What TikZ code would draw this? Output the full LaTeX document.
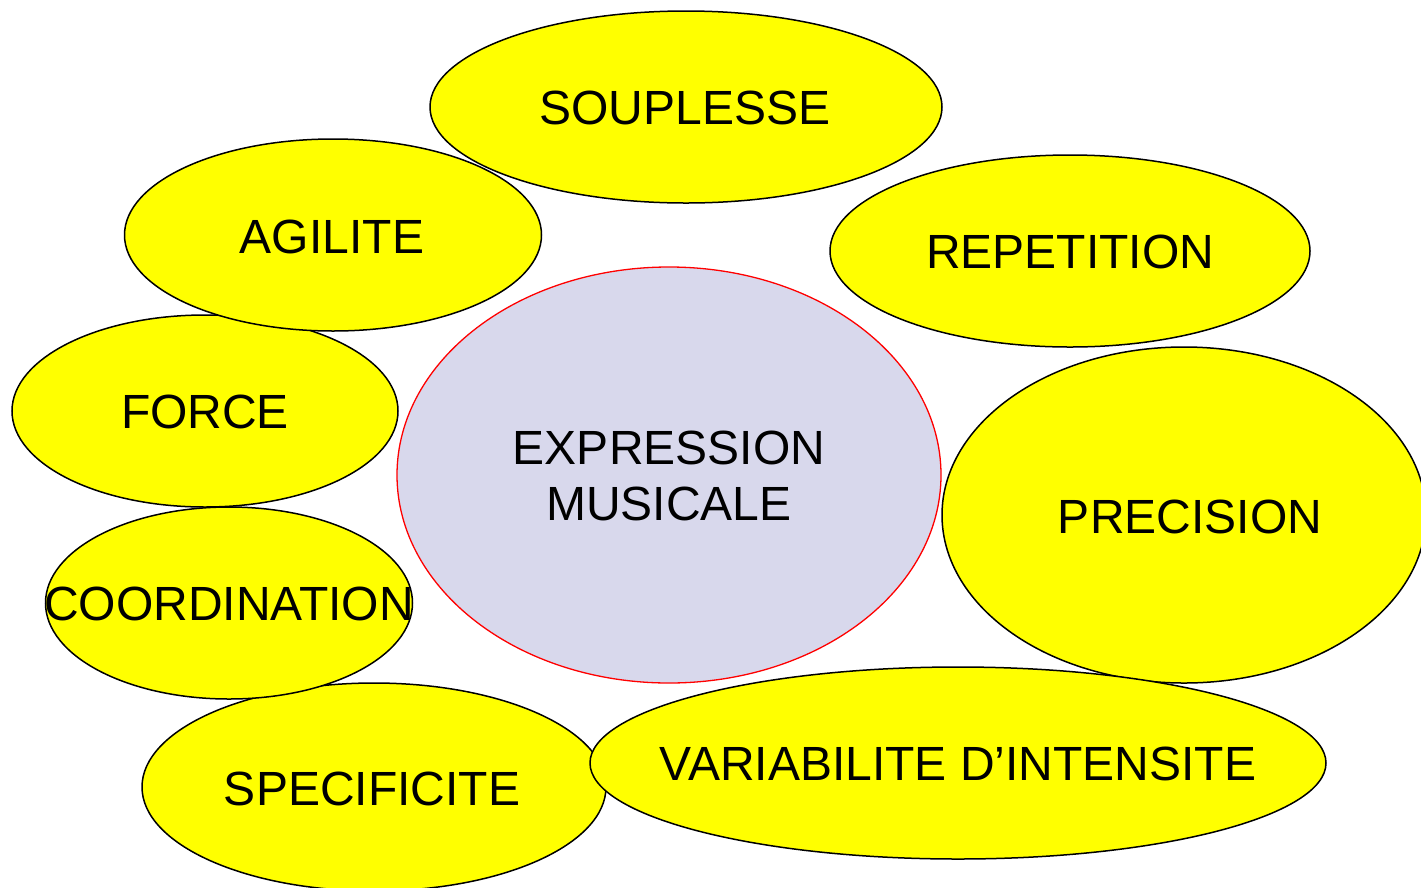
\documentclass[tikz,border=0pt]{standalone}
\usepackage{fontspec}
\setmainfont{Liberation Sans}
\usetikzlibrary{shapes.geometric}
\definecolor{ybubble}{RGB}{255,255,0}
\definecolor{lav}{RGB}{216,216,236}
\definecolor{redline}{RGB}{255,0,0}
\tikzset{
  bubble/.style={ellipse, draw=black, line width=1.5pt, fill=ybubble, inner sep=0pt},
  centre/.style={ellipse, draw=redline, line width=1.3pt, fill=lav, inner sep=0pt},
  lbl/.style={inner sep=0pt, font=\fontsize{48}{57}\selectfont, align=center, text=black}
}
\begin{document}
\begin{tikzpicture}[x=1pt,y=-1pt]
\useasboundingbox (0,0) rectangle (1421,887);
\clip (0,0) rectangle (1421,887);
% ellipses (draw order matters for overlaps)
\node[bubble, minimum width=512pt, minimum height=192pt] (soup) at (686,107) {};
\node[bubble, minimum width=480pt, minimum height=192pt] (rep) at (1070,251) {};
\node[bubble, minimum width=386pt, minimum height=192pt] (force) at (205,411) {};
\node[bubble, minimum width=417pt, minimum height=192pt] (agil) at (333,235) {};
\node[centre, minimum width=544pt, minimum height=416pt] (expr) at (669,475) {};
\node[bubble, minimum width=484pt, minimum height=336pt] (prec) at (1184,515) {};
\node[bubble, minimum width=464pt, minimum height=208pt] (spec) at (374,787) {};
\node[bubble, minimum width=367pt, minimum height=192pt] (coord) at (229,603) {};
\node[bubble, minimum width=736pt, minimum height=192pt] (var) at (958,763) {};
% labels
\node[lbl] (tsoup) at (685,108) {SOUPLESSE};
\node[lbl] (tagil) at (332,237) {AGILITE};
\node[lbl] (trep) at (1070,252) {REPETITION};
\node[lbl] (tforce) at (205,412) {FORCE};
\node[lbl, text width=400pt] (texpr) at (669,476) {EXPRESSION\\[-1pt]MUSICALE};
\node[lbl] (tprec) at (1190,517) {PRECISION};
\node[lbl] (tcoord) at (229,604) {COORDINATION};
\node[lbl] (tspec) at (372,789) {SPECIFICITE};
\node[lbl] (tvar) at (958,764) {VARIABILITE D’INTENSITE};
\end{tikzpicture}
\end{document}
